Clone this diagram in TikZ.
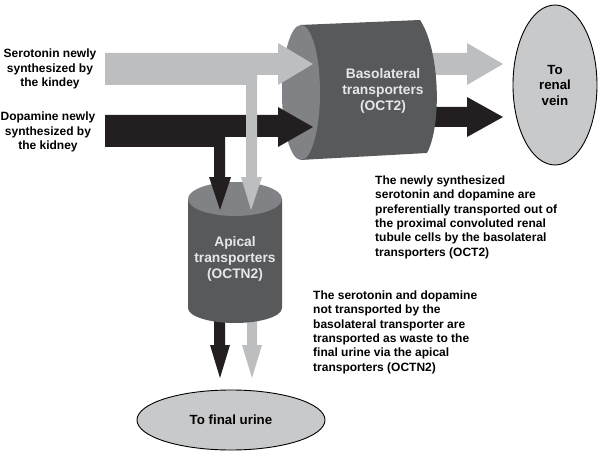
\documentclass[tikz,border=0pt]{standalone}
\usepackage{fontspec}
\setmainfont{Liberation Sans}
\usetikzlibrary{shapes.geometric}
\definecolor{lightarr}{HTML}{BCBEC0}
\definecolor{darkarr}{HTML}{231F20}
\definecolor{cylbody}{HTML}{58595B}
\definecolor{cylface}{HTML}{808285}
\definecolor{ellfill}{HTML}{C8C9CB}
\definecolor{cyltext}{HTML}{E6E7E8}
\begin{document}
\begin{tikzpicture}[x=1pt,y=-1pt,
  lbl/.style={font=\bfseries\fontsize{12}{14.4}\selectfont, inner sep=0pt, text=black},
  cyllbl/.style={font=\bfseries\fontsize{13.8}{16.4}\selectfont, align=center, inner sep=0pt, text=cyltext},
  ellnode/.style={ellipse, draw=black, line width=0.9pt, fill=ellfill, inner sep=0pt, align=center,
     font=\bfseries\fontsize{13.3}{15.5}\selectfont},
  lightflow/.style={fill=lightarr},
  darkflow/.style={fill=darkarr},
  body/.style={fill=cylbody},
  face/.style={fill=cylface}]
\useasboundingbox (0,0) rectangle (598,452);

% arrows leaving basolateral transporters (behind cylinder)
\fill[lightflow] (430,53) -- (467,53) -- (467,43) -- (503,64) -- (467,85) -- (467,75) -- (430,75) -- cycle;
\fill[darkflow] (430,107) -- (467,107) -- (467,97) -- (503,117) -- (467,137) -- (467,127) -- (430,127) -- cycle;

% basolateral cylinder
\fill[body] (300,25) -- (420,20) .. controls (440,50) and (442,125) .. (427,153) -- (300,160) -- cycle;
\fill[face] (301,92.5) ellipse [x radius=19pt, y radius=67.5pt];

% arrows leaving apical transporters (behind cylinder)
\fill[darkflow] (214,300) -- (225,300) -- (225,345) -- (230,345) -- (220,378) -- (210,345) -- (214,345) -- cycle;
\fill[lightflow] (247,300) -- (257,300) -- (257,345) -- (262,345) -- (252,378) -- (242,345) -- (247,345) -- cycle;

% apical cylinder
\fill[body] (188,199) -- (188,308) arc[start angle=180, end angle=360, x radius=47pt, y radius=15pt] -- (282,199) -- cycle;
\fill[face] (235,199) ellipse [x radius=47pt, y radius=17pt];

% dopamine flow
\fill[darkflow] (105,115) -- (278,115) -- (278,107) -- (313,127) -- (278,147) -- (278,137) -- (225,137)
  -- (225,177) -- (231,177) -- (220,210) -- (209,177) -- (214,177) -- (214,147) -- (105,147) -- cycle;
% serotonin flow
\fill[lightflow] (105,53) -- (278,53) -- (278,43) -- (313,64) -- (278,85) -- (278,75) -- (257,75)
  -- (257,177) -- (262,177) -- (251,210) -- (241,177) -- (246,177) -- (246,85) -- (105,85) -- cycle;

% texts in cylinders
\node[cyllbl] (baso) at (383,91) {Basolateral\\transporters\\(OCT2)};
\node[cyllbl] (apical) at (235,259) {Apical\\transporters\\(OCTN2)};

% destinations
\node[ellnode, minimum width=84pt, minimum height=160pt] (vein) at (555,85) {To\\renal\\vein};
\node[ellnode, minimum width=188pt, minimum height=60pt] (urine) at (231,420) {To final urine};

% labels
\node[lbl, align=center] (sero) at (50,69) {Serotonin newly\\synthesized by\\the kindey};
\node[lbl, align=center] (dopa) at (48,132) {Dopamine newly\\synthesized by\\the kidney};
\node[lbl, align=left, anchor=north west] (note1) at (375,175.5) {The newly synthesized\\serotonin and dopamine are\\preferentially transported out of\\the proximal convoluted renal\\tubule cells by the basolateral\\transporters (OCT2)};
\node[lbl, align=left, anchor=north west] (note2) at (313,290.5) {The serotonin and dopamine\\not transported by the\\basolateral transporter are\\transported as waste to the\\final urine via the apical\\transporters (OCTN2)};
\end{tikzpicture}
\end{document}
